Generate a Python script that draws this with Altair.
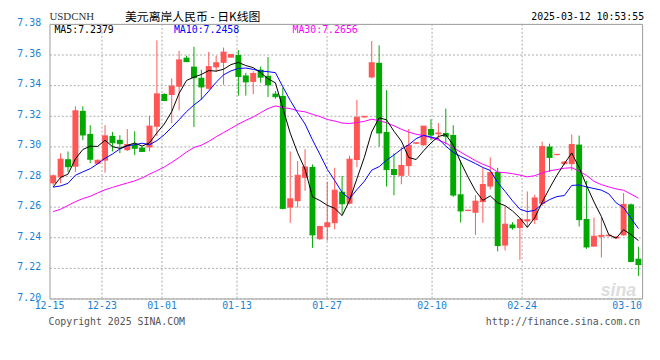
import altair as alt
import pandas as pd
import numpy as np

# ---- candle data ----
opens = [7.2755, 7.2793, 7.2913, 7.2864, 7.3230, 7.3079, 7.2883, 7.2904, 7.3066, 7.3040,
         7.2972, 7.3009, 7.2990, 7.2990, 7.3126, 7.3341, 7.3334, 7.3388, 7.3579, 7.3520,
         7.3447, 7.3375, 7.3515, 7.3545, 7.3579, 7.3596, 7.3462, 7.3420, 7.3500, 7.3460,
         7.3343, 7.3328, 7.2596, 7.2638, 7.2791, 7.2862, 7.2389, 7.2467, 7.2494, 7.2700,
         7.2621, 7.2908, 7.3187, 7.3449, 7.3545, 7.3092, 7.2849, 7.2804, 7.2868, 7.3015,
         7.3004, 7.3111, 7.3077, 7.3085, 7.3072, 7.2683, 7.2574, 7.2562, 7.2632, 7.2734,
         7.2830, 7.2347, 7.2485, 7.2462, 7.2505, 7.2514, 7.2621, 7.2996, 7.2940, 7.2881,
         7.2881, 7.3009, 7.2521, 7.2340, 7.2404, 7.2408, 7.2394, 7.2414, 7.2617, 7.2261]
highs = [7.2813, 7.2951, 7.2964, 7.3260, 7.3260, 7.3136, 7.2911, 7.3136, 7.3092, 7.3070,
         7.3111, 7.3096, 7.2995, 7.3198, 7.3692, 7.3345, 7.3443, 7.3624, 7.3592, 7.3650,
         7.3500, 7.3617, 7.3590, 7.3645, 7.3600, 7.3628, 7.3479, 7.3490, 7.3520, 7.3583,
         7.3360, 7.3383, 7.2964, 7.2900, 7.2979, 7.2879, 7.2477, 7.2766, 7.2857, 7.2804,
         7.2936, 7.3302, 7.3196, 7.3688, 7.3660, 7.3366, 7.2951, 7.2994, 7.3111, 7.3025,
         7.3130, 7.3175, 7.3149, 7.3245, 7.3136, 7.2906, 7.2580, 7.2677, 7.2857, 7.2925,
         7.2857, 7.2602, 7.2500, 7.2525, 7.2702, 7.2680, 7.3028, 7.3015, 7.2948, 7.2900,
         7.3075, 7.3068, 7.2772, 7.2530, 7.2535, 7.2416, 7.2408, 7.2691, 7.2623, 7.2339]
lows = [7.2745, 7.2755, 7.2830, 7.2830, 7.3038, 7.2887, 7.2880, 7.2825, 7.2964, 7.2953,
        7.2968, 7.2940, 7.2960, 7.2964, 7.3064, 7.3296, 7.3149, 7.3234, 7.3550, 7.3124,
        7.3302, 7.3370, 7.3485, 7.3400, 7.3578, 7.3330, 7.3330, 7.3340, 7.3415, 7.3321,
        7.3310, 7.2585, 7.2496, 7.2596, 7.2706, 7.2332, 7.2383, 7.2379, 7.2453, 7.2553,
        7.2617, 7.2862, 7.3185, 7.3443, 7.2996, 7.2734, 7.2677, 7.2749, 7.2804, 7.3012,
        7.3002, 7.3038, 7.3042, 7.3010, 7.2666, 7.2498, 7.2572, 7.2417, 7.2496, 7.2715,
        7.2309, 7.2315, 7.2451, 7.2253, 7.2467, 7.2489, 7.2606, 7.2830, 7.2938, 7.2875,
        7.2838, 7.2472, 7.2325, 7.2340, 7.2269, 7.2407, 7.2390, 7.2410, 7.2238, 7.2148]
closes = [7.2804, 7.2913, 7.2864, 7.3230, 7.3072, 7.2913, 7.2906, 7.3066, 7.3021, 7.3015,
          7.3009, 7.2985, 7.2964, 7.3130, 7.3341, 7.3298, 7.3392, 7.3564, 7.3553, 7.3447,
          7.3387, 7.3520, 7.3545, 7.3615, 7.3600, 7.3456, 7.3420, 7.3475, 7.3451, 7.3400,
          7.3323, 7.2591, 7.2653, 7.2808, 7.2862, 7.2417, 7.2472, 7.2496, 7.2710, 7.2621,
          7.2913, 7.3187, 7.3194, 7.3545, 7.3085, 7.2845, 7.2813, 7.2872, 7.3004, 7.3021,
          7.3130, 7.3072, 7.3085, 7.3064, 7.2678, 7.2574, 7.2579, 7.2638, 7.2747, 7.2825,
          7.2347, 7.2487, 7.2464, 7.2517, 7.2516, 7.2659, 7.2996, 7.2925, 7.2945, 7.2894,
          7.3009, 7.2517, 7.2338, 7.2408, 7.2414, 7.2415, 7.2403, 7.2617, 7.2243, 7.2223]

# leading moving-average values (before a full window exists)
ma5_lead = [7.2732, 7.2794, 7.2815, 7.2915]
ma10_lead = [7.2730, 7.2738, 7.2755, 7.2808, 7.2830, 7.2851, 7.2883, 7.2919, 7.2947]
ma30_lead = [7.2570, 7.2585, 7.2610, 7.2635, 7.2655, 7.2670, 7.2692, 7.2713, 7.2728, 7.2743,
             7.2757, 7.2771, 7.2790, 7.2815, 7.2838, 7.2862, 7.2892, 7.2925, 7.2960, 7.2990,
             7.3005, 7.3030, 7.3060, 7.3088, 7.3115, 7.3143, 7.3168, 7.3190, 7.3218]

date_labels = ["12-15", "12-23", "01-01", "01-13", "01-27", "02-10", "02-24", "03-10"]
date_index = [0, 7, 15, 25, 37, 51, 63, 77]
y_ticks = [7.20, 7.22, 7.24, 7.26, 7.28, 7.30, 7.32, 7.34, 7.36, 7.38]

symbol_text = "USDCNH"
title_text = "美元离岸人民币 - 日K线图"
time_text = "2025-03-12 10:53:55"
legend_texts = ["MA5:7.2379", "MA10:7.2458", "MA30:7.2656"]
copyright_text = "Copyright 2025 SINA.COM"
url_text = "http://finance.sina.com.cn"

RED = "#ff5555"
GREEN = "#00a800"
BLUE_LABEL = "#1a7fd4"
MONO = "DejaVu Sans Mono"

n = len(closes)
s = pd.Series(closes)
ma5 = s.rolling(5).mean().to_numpy()
ma5[:4] = ma5_lead
ma10 = s.rolling(10).mean().to_numpy()
ma10[:9] = ma10_lead
ma30 = s.rolling(30).mean().to_numpy()
ma30[:29] = ma30_lead

df = pd.DataFrame({
    "i": np.arange(n),
    "open": opens, "high": highs, "low": lows, "close": closes,
    "dir": ["up" if c >= o else "down" for o, c in zip(opens, closes)],
    "ma5": ma5, "ma10": ma10, "ma30": ma30,
})

W, H = 600, 278
xscale = alt.Scale(domain=[-0.5, n - 0.5], nice=False, zero=False)
yscale = alt.Scale(domain=[7.20, 7.38], nice=False, zero=False)
yaxis = alt.Axis(values=y_ticks, format=".2f", grid=True, gridDash=[2, 2], gridColor="#aaaaaa",
                 ticks=False, domain=False, labelColor=BLUE_LABEL, labelFont=MONO,
                 labelFontSize=10, labelPadding=9, labelOffset=-1, title=None)
color = alt.Color("dir:N", scale=alt.Scale(domain=["up", "down"], range=[RED, GREEN]), legend=None)

base = alt.Chart(df)
X = alt.X("i:Q", scale=xscale, axis=None)

wicks = base.mark_rule(strokeWidth=1).encode(
    x=X, y=alt.Y("low:Q", scale=yscale, axis=yaxis), y2="high:Q", color=color)
bodies = base.mark_rect(xOffset=-3, x2Offset=3).encode(
    x=X, x2="i:Q", y=alt.Y("open:Q", scale=yscale, axis=yaxis), y2="close:Q", color=color)
closetick = base.mark_rule(strokeWidth=1, xOffset=-3, x2Offset=3).encode(
    x=X, x2="i:Q", y=alt.Y("close:Q", scale=yscale, axis=yaxis), color=color)

def ma_line(field, col):
    return base.mark_line(strokeWidth=1, color=col).encode(
        x=X, y=alt.Y(f"{field}:Q", scale=yscale, axis=yaxis))

l30 = ma_line("ma30", "#ff00ff")
l10 = ma_line("ma10", "#0000ff")
l5 = ma_line("ma5", "#000000")

dates_df = pd.DataFrame({"label": date_labels, "idx": date_index})
vgrid = alt.Chart(dates_df).transform_filter(
    "datum.idx > 0 && datum.idx < 70"
).transform_calculate(
    pos=f"datum.idx * {n} / {n - 1} - 0.5"
).mark_rule(strokeDash=[2, 2], color="#aaaaaa", strokeWidth=1).encode(
    x=alt.X("pos:Q", scale=xscale, axis=None), y=alt.value(0), y2=alt.value(H))
xlabels = alt.Chart(dates_df).transform_calculate(
    pos=f"datum.idx * {n} / {n - 1} - 0.5"
).mark_text(font=MONO, fontSize=10, color=BLUE_LABEL, baseline="middle", align="center").encode(
    x=alt.X("pos:Q", scale=xscale, axis=None), y=alt.value(H + 8), text="label:N")

def label(text, x, y, **kw):
    return alt.Chart(pd.DataFrame({"t": [text]})).mark_text(baseline="middle", **kw).encode(
        x=alt.value(x), y=alt.value(y), text="t:N")

HY = -7
t_sym = label(symbol_text, 0, HY, align="left", font="Liberation Serif", fontSize=11, color="#333333")
t_title = label(title_text, 145, HY, align="center", font="Noto Sans CJK SC", fontSize=12, color="#000000")
t_time = label(time_text, 602, HY, align="right", font=MONO, fontSize=10, color="#000000")
t_ma5 = label(legend_texts[0], 5, 6, align="left", font=MONO, fontSize=10, color="#000000")
t_ma10 = label(legend_texts[1], 126, 6, align="left", font=MONO, fontSize=10, color="#0000ff")
t_ma30 = label(legend_texts[2], 246, 6, align="left", font=MONO, fontSize=10, color="#ff00ff")
t_copy = label(copyright_text, -1, H + 24, align="left", font=MONO, fontSize=10, color="#555555")
t_url = label(url_text, 598, H + 24, align="right", font=MONO, fontSize=10, color="#555555")
t_sina = label("sina", 576, H - 8, align="center", font="Liberation Sans", fontSize=18,
               fontStyle="italic", fontWeight="bold", color="#dddddd")

chart = alt.layer(
    t_sina, vgrid, wicks, bodies, closetick, l30, l10, l5, xlabels,
    t_sym, t_title, t_time, t_ma5, t_ma10, t_ma30, t_copy, t_url
).properties(
    width=W, height=H,
    padding={"left": 42, "top": 14, "right": 10, "bottom": 48},
    autosize=alt.AutoSizeParams(type="none"),
    background="#ffffff",
).configure_view(stroke="#999999", strokeWidth=1)

chart.save("out.html", embed_options={"renderer": "svg", "actions": False})
